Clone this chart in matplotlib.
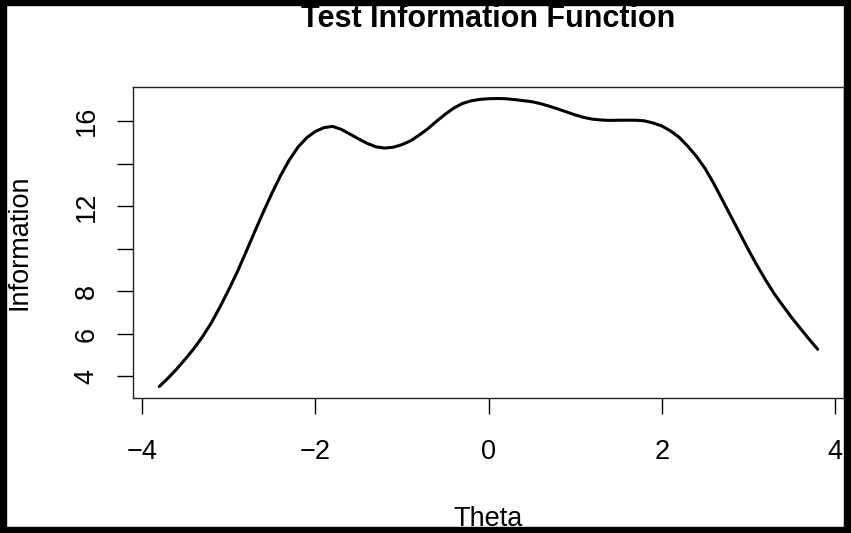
import matplotlib
matplotlib.use("Agg")
import matplotlib.pyplot as plt
from matplotlib.patches import Rectangle

plt.rcParams['font.family'] = ['Liberation Sans', 'DejaVu Sans']

# test information curve, every 0.1 of theta
theta = [round(-3.8 + 0.1 * i, 1) for i in range(77)]
info = [3.53, 3.92, 4.35, 4.82, 5.32, 5.88, 6.52, 7.27, 8.07, 8.92,
        9.85, 10.80, 11.73, 12.62, 13.45, 14.18, 14.78, 15.22, 15.52, 15.70,
        15.76, 15.62, 15.40, 15.17, 14.96, 14.80, 14.74, 14.78, 14.90, 15.08,
        15.35, 15.65, 16.00, 16.33, 16.62, 16.84, 16.96, 17.03, 17.06, 17.07,
        17.06, 17.02, 16.97, 16.92, 16.83, 16.71, 16.58, 16.44, 16.30, 16.18,
        16.10, 16.06, 16.04, 16.05, 16.05, 16.05, 16.02, 15.92, 15.78, 15.55,
        15.25, 14.83, 14.35, 13.78, 13.08, 12.30, 11.52, 10.74, 9.96, 9.22,
        8.53, 7.88, 7.32, 6.77, 6.26, 5.76, 5.28]

xticks = [-4, -2, 0, 2, 4]
xlabels = ['\u22124', '\u22122', '0', '2', '4']
yticks = [4, 6, 8, 10, 12, 14, 16]
ylabels = ['4', '6', '8', '', '12', '', '16']

W, H = 851, 533
fig = plt.figure(figsize=(W / 100, H / 100), dpi=100)
ax = fig.add_axes([133 / W, 1 - 398 / H, (844 - 133) / W, (398 - 87) / H])

ax.plot(theta, info, color='black', lw=2.2, solid_capstyle='round',
        solid_joinstyle='round')

# R style limits: data range +/- 4%
pad_x = 0.04 * (max(theta) - min(theta))
pad_y = 0.04 * (max(info) - min(info))
ax.set_xlim(min(theta) - pad_x, max(theta) + pad_x)
ax.set_ylim(min(info) - pad_y, max(info) + pad_y)

ax.set_xticks(xticks)
ax.set_xticklabels(xlabels)
ax.set_yticks(yticks)
ax.set_yticklabels(ylabels, rotation=90, va='center')
ax.tick_params(axis='both', direction='out', length=11.5, width=1.0,
               labelsize=19.5, color='black')
ax.tick_params(axis='x', pad=18)
ax.tick_params(axis='y', pad=12.5)
for sp in ax.spines.values():
    sp.set_linewidth(1.0)
    sp.set_color('#222222')

fig.text(488.5 / W, 1 - 27 / H, 'Test Information Function', ha='center',
         va='baseline', fontsize=22, fontweight='bold')
fig.text(488.5 / W, 1 - 526 / H, 'Theta', ha='center', va='baseline',
         fontsize=19.5)
fig.text(27 / W, 1 - 242.5 / H, 'Information', rotation=90,
         rotation_mode='anchor', ha='center', va='baseline', fontsize=19.5)

# black frame round the picture (left, right, bottom, top), in pixels
frame = [(0, 0, 6, H), (W - 7, 0, 7, H), (0, 0, W, 6), (0, H - 5, W, 5)]
for (x0, y0, w, h) in frame:
    fig.add_artist(Rectangle((x0 / W, y0 / H), w / W, h / H, color='black',
                             transform=fig.transFigure, clip_on=False, zorder=10))

fig.savefig('out.png', dpi=100)
